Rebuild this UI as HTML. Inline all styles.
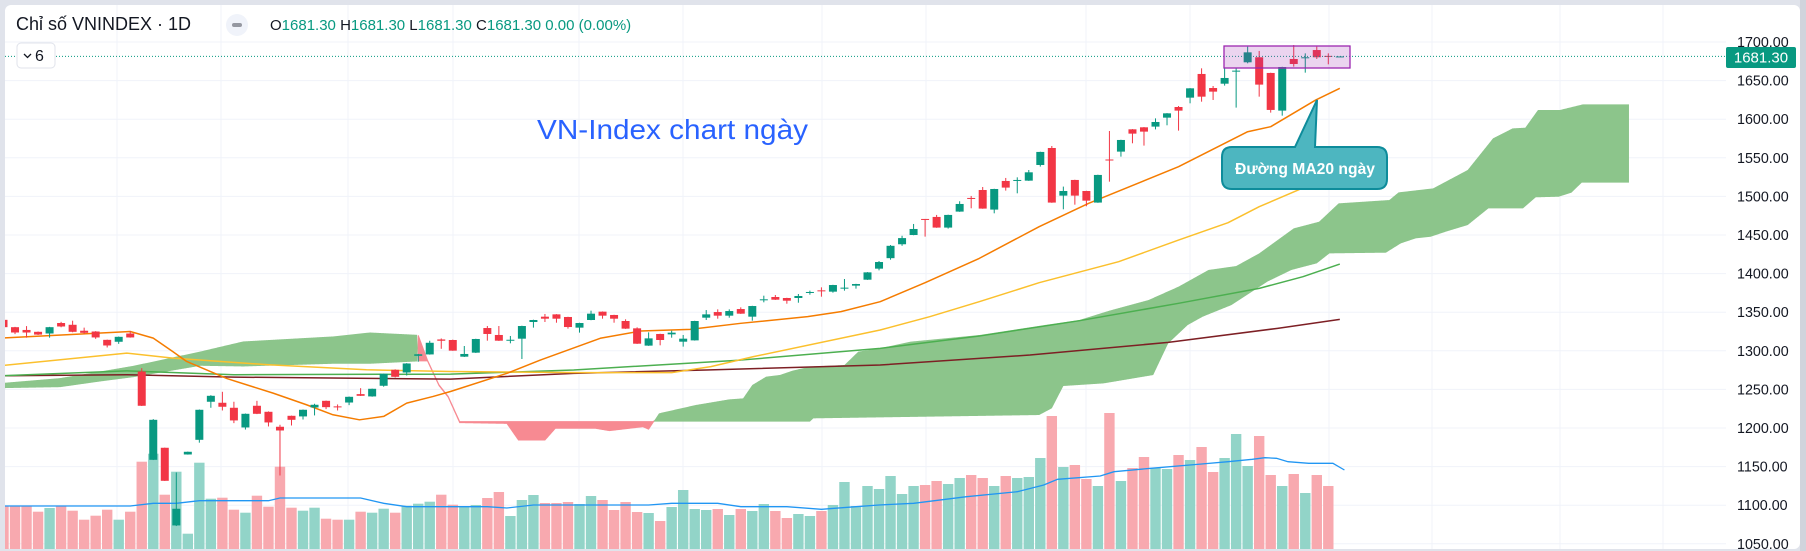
<!DOCTYPE html>
<html><head><meta charset="utf-8"><style>
html,body{margin:0;padding:0;background:#e0e3eb;}
svg{display:block;font-family:"Liberation Sans",sans-serif;}
</style></head><body>
<svg id="chart" width="1806" height="551" viewBox="0 0 1806 551" xmlns="http://www.w3.org/2000/svg">
<rect x="0" y="0" width="1806" height="551" fill="#e0e3eb"/>
<rect x="5" y="5" width="1795" height="544" rx="6" fill="#ffffff"/>
<defs><clipPath id="plotClip"><rect x="5" y="5" width="1721" height="544"/></clipPath></defs>
<g id="grid"></g>
<g id="plot" clip-path="url(#plotClip)">
<g id="volumes"></g>
<g id="volma"></g>
<g id="cloud"></g>
<g id="mas"></g>
<g id="candles"></g>
</g>
<g id="axis"></g>
<line x1="5" y1="56.4" x2="1726" y2="56.4" stroke="#089981" stroke-width="1" stroke-dasharray="1,2"/>
<rect id="rangebox" x="1224" y="46" width="126" height="22" fill="rgba(156,39,176,0.2)" stroke="#9c27b0" stroke-width="1.3"/>
<rect x="1726" y="47" width="70" height="21" rx="2" fill="#089981"/>
<text x="1761" y="62.5" text-anchor="middle" font-size="15" fill="#ffffff">1681.30</text>
<text x="537" y="139" font-size="28" fill="#2962ff" textLength="271" lengthAdjust="spacingAndGlyphs">VN-Index chart ngày</text>
<path d="M1232,147 L1295,147 L1317,100 L1315,147 L1377,147 Q1387,147 1387,157 L1387,179 Q1387,189 1377,189 L1232,189 Q1222,189 1222,179 L1222,157 Q1222,147 1232,147 Z" fill="#4db6c0" stroke="#0e8c9b" stroke-width="2"/>
<text x="1305" y="174" text-anchor="middle" font-size="16" font-weight="bold" fill="#ffffff" textLength="140" lengthAdjust="spacingAndGlyphs">Đường MA20 ngày</text>
<text x="16" y="30" font-size="18" fill="#131722">Chỉ số VNINDEX · 1D</text>
<circle cx="237" cy="25" r="11" fill="#f0f3fa"/>
<rect x="232" y="23" width="10" height="4" rx="2" fill="#9598a1"/>
<text x="270" y="30" font-size="15"><tspan fill="#131722">O</tspan><tspan fill="#089981">1681.30 </tspan><tspan fill="#131722">H</tspan><tspan fill="#089981">1681.30 </tspan><tspan fill="#131722">L</tspan><tspan fill="#089981">1681.30 </tspan><tspan fill="#131722">C</tspan><tspan fill="#089981">1681.30 0.00 (0.00%)</tspan></text>
<rect x="17" y="43" width="38" height="25" rx="4" fill="#ffffff" stroke="#e0e3eb"/>
<path d="M24,54 L27.5,57.5 L31,54" fill="none" stroke="#131722" stroke-width="1.3"/>
<text x="35" y="61" font-size="16" fill="#131722">6</text>
<rect x="1800" y="0" width="6" height="551" fill="#d1d4dc"/>
</svg>
<script>
const opens=[1340.1,1330.6,1327,1324.6,1322.4,1336,1333.7,1326,1325,1314.2,1311.7,1322.4,1273.2,1158.8,1174.4,1073.8,1165.7,1184.7,1234,1232.7,1226.2,1200.7,1228.8,1221,1201.6,1215.8,1215,1226.6,1235.2,1228,1233,1243.9,1240.9,1254.7,1275.4,1271.9,1293.5,1295.3,1314.7,1314,1292.4,1297.6,1329.5,1320.5,1313.5,1315.7,1337.3,1344.2,1347.2,1343.8,1330,1339.9,1350.7,1346.4,1338.6,1329.1,1306.7,1321.8,1321.3,1311.8,1313.5,1342.9,1350.2,1345.5,1354.1,1344.2,1366.1,1369.7,1368.4,1368.4,1375.3,1378.3,1376.6,1380.9,1384.4,1392.1,1406.4,1420,1438,1450,1470.8,1473.4,1459.6,1480.3,1498,1508.3,1482.9,1520,1520.8,1520.4,1540.7,1562.7,1501,1521.3,1507,1492,1547.8,1558,1586.9,1589.5,1590.4,1602,1615.8,1627.9,1658.6,1640.4,1646,1661.6,1673.7,1680.2,1659.9,1611.1,1678,1678.9,1689.6,1682,1681.3];
const highs=[1341,1331,1332,1325,1331,1337.5,1339,1330,1325.5,1314.5,1318.5,1325.5,1277.5,1211.5,1174.6,1142.4,1169.4,1224,1242.5,1246.9,1234,1218.8,1235.2,1221.5,1204.2,1216,1224,1231.4,1235.5,1230.5,1240.8,1251.6,1251,1270.5,1276,1284,1296,1313,1316,1314.5,1306.2,1315.6,1332.1,1332.1,1319.2,1332.5,1340.3,1347.7,1347.5,1344.1,1336.3,1352,1351,1346.7,1340.8,1330.4,1323.9,1322.1,1326.1,1320.5,1338.9,1352.8,1353.7,1353.7,1356.3,1358.3,1371.4,1372.3,1368.7,1373.6,1377.9,1382.2,1385.5,1393,1386.8,1401.9,1416.3,1437,1449,1464.3,1470.8,1476,1476.3,1493.7,1500.6,1512.2,1509.9,1523.9,1524.7,1534.2,1557.9,1565.3,1512.7,1521.6,1507.3,1528.1,1584.7,1573.4,1587.2,1589.8,1601.1,1607.9,1617.1,1640.3,1665.9,1643,1665.9,1665.9,1694,1688.4,1660.2,1667.9,1696.1,1685.3,1694,1685.3,1681.3];
const lows=[1330,1321.6,1317,1320.5,1317,1330.5,1324,1322,1315.5,1304.3,1309,1317,1228.5,1158.5,1131.4,1073,1165.5,1181,1226.2,1222.7,1206.3,1198,1218,1202,1138.5,1203.3,1211,1216.3,1224.5,1222.7,1229.6,1241.5,1240.5,1253.5,1265.5,1268,1285.8,1295,1302.6,1300,1292,1297.2,1313.1,1312.8,1309.7,1289.4,1330,1337.3,1336.4,1328.7,1323.5,1339.6,1341.6,1336.4,1328.4,1308.9,1306.4,1307.1,1317,1305.4,1313.2,1339.9,1341.6,1342.9,1347.8,1339,1362.8,1365.9,1361,1362.3,1372.7,1370.1,1375.3,1377.9,1380.5,1391.8,1404.2,1418,1436,1449.7,1447.9,1459.3,1458.3,1480,1484.6,1484,1478.1,1507.5,1504,1520.1,1538.6,1491.7,1483.3,1489.3,1487.2,1491.7,1519.1,1551.5,1568.8,1565.8,1586.9,1592.1,1585.2,1620.6,1622.7,1624.9,1643.5,1615,1672.4,1629.2,1608.5,1604.6,1668.1,1660.3,1678,1671.1,1681.3];
const closes=[1330.6,1323.7,1323.7,1321,1330.6,1331.5,1324.6,1323.3,1317.3,1306.9,1318.1,1317.3,1228.8,1210.6,1131.6,1095.4,1169.2,1223.6,1241.7,1227.5,1209.8,1218.4,1218.4,1207.2,1196.8,1210.6,1223.6,1230.1,1227,1227,1240.4,1241.7,1250.8,1270.2,1266.3,1283.6,1295.5,1310.4,1313,1300.2,1295.9,1315.3,1321.8,1313.1,1314.3,1332.1,1339.9,1341.6,1341.6,1330.8,1336,1348.1,1345.5,1341.6,1328.7,1309.2,1316.1,1314,1323.5,1315.7,1338.6,1347.2,1345.5,1351.5,1348.1,1358,1366.7,1366.2,1364.9,1371,1376.2,1377.5,1385.2,1381.8,1386.5,1401.6,1415,1436,1446,1457.8,1469.5,1459.6,1476,1490.2,1496.7,1484.2,1509.6,1511.4,1521.3,1531.2,1557.6,1492,1507,1501,1494.5,1527.8,1546.6,1573.1,1581.3,1583.9,1596.4,1607.6,1611.1,1640,1629.2,1635.7,1653.4,1662.9,1686.6,1644.8,1612,1667.6,1671.5,1680.2,1680.2,1681,1681.3];
const volumes=[43.3,42.7,42.7,37.3,41,43.3,38.3,29.3,33.3,39.3,29.3,37.3,87.3,95.3,54.3,77.3,15.3,86.3,50.3,51.3,39.3,36.3,53.3,42.3,82.3,41.3,38.3,41.3,30.3,29.3,29.3,37.3,36.3,40.3,36.3,43.3,45.3,47.3,54.3,44.3,42.3,44,51,57,33,49,54,46,46,47,45,53,49,39,47,37,36,28,42,59,40,39,40,34,40,38,45,38,31,35,33,38,44,67,43,63,60,73,55,63,64,68,65,71,74,71,63,73,71,72,91,133,82,84,70,63,136,68,81,92,81,80,94,89,102,77,91,115,83,113,74,63,75,56,74,63,0];
const volMaIdx=[0,11,13,15,17,23,24,31,33,35,38,42,43.7,46,56,58,62,64,68,71,74,76,79,83.6,88,90.3,91.5,95.2,96.4,99.6,104,106.3,108.4,109.5,110.5,111.5,113.3,115.4,116.4];
const volMaVal=[43,43,45.7,45.7,48.3,48.3,51,51,45.7,42.3,42.3,42.3,41,44,44,45.7,45.7,42.3,42.3,39.7,42.3,44,45.7,52.3,57.3,64,69.7,73,77.3,80.7,85,87.3,89.7,91.3,90.7,87.3,85.7,85.7,79];
const ma20Idx=[-0.3,11,13,14.7,15.9,19.4,23.4,26.3,28.6,30.9,33,35,37.3,38.8,43.7,46.6,51.8,55.3,59.6,64,69.8,72.7,76.1,80,84.7,89.9,94.2,102,108,110,113.9,116];
const ma20Val=[1316.4,1325,1316.4,1299,1286.2,1264,1245.2,1230.1,1217.1,1210.6,1215,1232.2,1240.9,1247.3,1270.8,1288,1316.2,1325.6,1327.8,1335.6,1344.2,1350.7,1363.6,1388.2,1419.7,1460.8,1491,1538.5,1583.8,1590.3,1624.8,1640];
const ma50Idx=[-0.3,10.7,14.7,23,31.5,38.8,50,58,61.4,65.1,76.1,80.4,84.7,89.9,96.8,102,106.3,109,112.4,116];
const ma50Val=[1280.6,1297,1290.5,1281.9,1275.4,1273.2,1271.7,1271.7,1279.5,1292.4,1326.9,1344.2,1363.6,1388.2,1415.4,1443.5,1466,1486.7,1508.3,1532];
const ma100Idx=[-0.3,10.7,20,38.8,49.5,64,76.1,84.7,93.4,102,109,112.8,116];
const ma100Val=[1267.6,1274,1269,1269.8,1275.1,1288,1303.2,1319.1,1339,1361.5,1380.9,1396,1412.4];
const ma200Idx=[-0.3,10.7,20,38.8,49.5,61,76.1,89.1,101.1,110.6,116];
const ma200Val=[1267.6,1269,1265.9,1263.3,1270.8,1275.1,1281.6,1294.5,1310.9,1329.1,1340.7];
const spanAIdx=[-0.3,4.9,8.4,11.3,17.1,20.8,28.6,31.8,35.9,36.0,36.8,37.8,38.6,39.6,43.7,44.7,47.0,47.9,51.4,52.6,55.5,56.0,56.9,60.1,63.0,64.2,65.0,66.2,67.4,68.5,70.0,73.0,74.2,76.1,78.7,84.7,90.4,93.4,96.0,99.4,102.0,104.6,107.0,109.0,112.0,114.2,115.9,120.3,121.1,124.1,127.1,129.3,131.0,132.1,133.2,135.1,137.1,141.1];
const spanAVal=[1258.1,1264.6,1273.2,1280.6,1299.1,1312.1,1318.6,1323.7,1320.7,1287,1287,1255,1240,1207,1206,1184.5,1184.5,1199.6,1199.6,1196.6,1201.7,1198.5,1219,1229.8,1237.1,1238.4,1255.7,1266.5,1268.7,1274.3,1279.5,1281.6,1298.9,1303.2,1311.8,1320.4,1333.4,1339.9,1352,1365.8,1383.1,1404.7,1409.8,1426.2,1458.6,1467.2,1491,1495.3,1505.2,1510.4,1534.2,1575.2,1588.1,1589,1611.9,1611.9,1619.2,1619.2];
const spanBIdx=[-0.3,4.9,8.4,11.3,17.1,20.8,28.6,31.8,35.9,36.0,36.8,37.8,38.6,39.6,70.0,70.3,89.9,91.0,92.0,95.5,99.8,101.1,102.8,104.1,106.6,109.7,111.8,114.0,115.1,120.0,121.3,122.6,123.9,125.2,127.1,128.9,131.9,133.0,135.0,136.1,137.0,141.1];
const spanBVal=[1251.6,1252.9,1260.3,1265.9,1280.6,1279.7,1283.2,1283.2,1286.2,1320,1288,1256,1241,1208.2,1208.2,1212.5,1216.8,1225.5,1254.4,1257.8,1268.6,1309.6,1333.4,1344.2,1359.3,1389.5,1404.7,1413.3,1426.2,1427.1,1439.2,1445.7,1447.8,1454.3,1462.9,1484.5,1484.5,1498.8,1499.6,1504.8,1517.8,1517.8];
const priceTicks=[1700,1650,1600,1550,1500,1450,1400,1350,1300,1250,1200,1150,1100,1050];
const timeGridX=[117,221,348,453,579,683,822,926,1086,1190,1329,1432,1560,1663];

const NS='http://www.w3.org/2000/svg';
function xOf(i){return 3.5+11.52*i;}
function yOf(p){return 42+(1700-p)*0.772;}
function yVol(v){return 549-v;}
function mk(tag,attrs,parent){const e=document.createElementNS(NS,tag);for(const k in attrs)e.setAttribute(k,attrs[k]);parent.appendChild(e);return e;}
function interp(idx,val,t){if(t<=idx[0])return val[0];for(let k=1;k<idx.length;k++){if(t<=idx[k]){const f=(t-idx[k-1])/(idx[k]-idx[k-1]||1);return val[k-1]+f*(val[k]-val[k-1]);}}return val[val.length-1];}

const grid=document.getElementById('grid');
priceTicks.forEach(p=>{
  const l=mk('line',{x1:5,x2:1726,y1:yOf(p),y2:yOf(p),stroke:'#f0f3fa','stroke-width':1},grid);
  
  
});
timeGridX.forEach(x=>{
  const l=mk('line',{x1:x,x2:x,y1:5,y2:549,stroke:'#f0f3fa','stroke-width':1},grid);
  
  
});

const axis=document.getElementById('axis');
priceTicks.forEach(p=>{
  const t=mk('text',{x:1737,y:yOf(p)+5,'font-size':14.3,fill:'#131722'},axis);
  t.textContent=p.toFixed(2);
  
  
});

const vg=document.getElementById('volumes');
volumes.forEach((v,i)=>{
  if(v<=0)return;
  const up=closes[i]>=opens[i];
  const r=mk('rect',{x:xOf(i)-5.2,y:yVol(v),width:10.4,height:v,fill:up?'#92d4c8':'#f8a9af'},vg);
  
  
});
const vm=document.getElementById('volma');
const vpl=mk('polyline',{points:volMaIdx.map((t,k)=>xOf(t)+','+yVol(volMaVal[k])).join(' '),fill:'none',stroke:'#2196f3','stroke-width':1.3},vm);



// cloud: runs of same sign
const cg=document.getElementById('cloud');
const t0=Math.max(spanAIdx[0],spanBIdx[0]), t1=Math.min(spanAIdx[spanAIdx.length-1],spanBIdx[spanBIdx.length-1]);
const step=0.05;
let run=null;
function flush(){
  if(!run||run.a.length<2){run=null;return;}
  const pts=run.a.concat(run.b.slice().reverse()).map(q=>q[0].toFixed(2)+','+q[1].toFixed(2)).join(' ');
  const col=run.green?'#8cc58b':'#f78a92';
  const pg=mk('polygon',{points:pts,fill:col,stroke:run.green?'none':col,'stroke-width':run.green?0:1},cg);
  
  
  run=null;
}
for(let t=t0;t<=t1+1e-9;t+=step){
  const a=interp(spanAIdx,spanAVal,t), b=interp(spanBIdx,spanBVal,t);
  const g=a>=b;
  const pa=[xOf(t),yOf(a)], pb=[xOf(t),yOf(b)];
  if(run&&run.green!==g){run.a.push(pa);run.b.push(pb);flush();}
  if(!run)run={green:g,a:[],b:[]};
  run.a.push(pa);run.b.push(pb);
}
flush();

const mg=document.getElementById('mas');
[[ma200Idx,ma200Val,'#7d1f24','ma200-line'],[ma100Idx,ma100Val,'#4caf50','ma100-line'],[ma50Idx,ma50Val,'#fbc02d','ma50-line'],[ma20Idx,ma20Val,'#f57c00','ma20-line']].forEach(s=>{
  const pl=mk('polyline',{points:s[0].map((t,k)=>xOf(t)+','+yOf(s[1][k])).join(' '),fill:'none',stroke:s[2],'stroke-width':1.5,'stroke-linejoin':'round'},mg);
  
  
});

const kg=document.getElementById('candles');
opens.forEach((o,i)=>{
  const c=closes[i],up=c>=o,col=up?'#089981':'#f23645',x=xOf(i);
  const g=mk('g',{},kg);
  
  
  mk('line',{x1:x,x2:x,y1:yOf(highs[i]),y2:yOf(lows[i]),stroke:col,'stroke-width':1},g);
  const top=yOf(Math.max(o,c)),bot=yOf(Math.min(o,c));
  mk('rect',{x:x-4,y:top,width:8,height:Math.max(1,bot-top),fill:col},g);
});
</script>
</body></html>
